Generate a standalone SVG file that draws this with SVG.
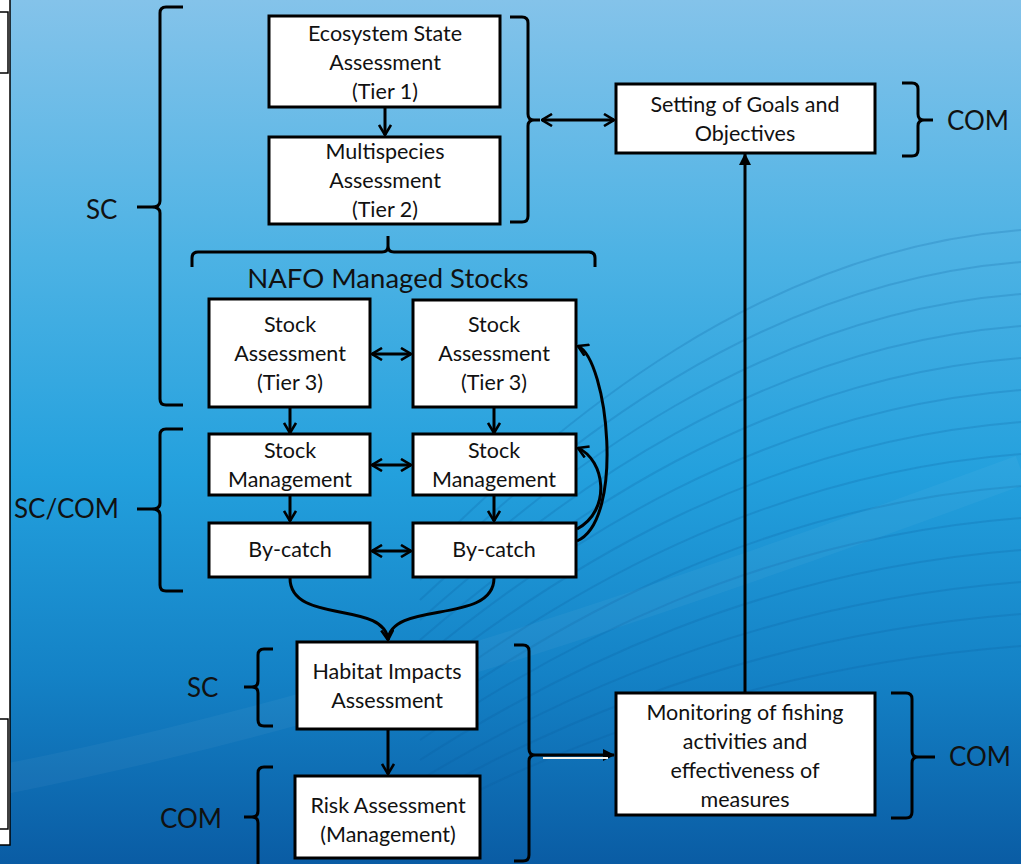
<svg xmlns="http://www.w3.org/2000/svg" width="1021" height="864" viewBox="0 0 1021 864">
<defs>
<linearGradient id="bg" x1="0" y1="0" x2="0" y2="1">
<stop offset="0" stop-color="#84c3ea"/>
<stop offset="0.3" stop-color="#4cb2e4"/>
<stop offset="0.55" stop-color="#23a0dd"/>
<stop offset="0.78" stop-color="#1482c6"/>
<stop offset="1" stop-color="#0a5ca4"/>
</linearGradient>
<marker id="op" viewBox="0 0 12 14" refX="11" refY="7" markerWidth="12" markerHeight="14" markerUnits="userSpaceOnUse" orient="auto-start-reverse">
<path d="M1,1 L11,7 L1,13" fill="none" stroke="#000" stroke-width="2.6"/>
</marker>
<marker id="fl" viewBox="0 0 12 12" refX="11" refY="6" markerWidth="12" markerHeight="12" markerUnits="userSpaceOnUse" orient="auto">
<path d="M0,0 L12,6 L0,12 z" fill="#000"/>
</marker>
<style>
.box{fill:#fff;stroke:#000;stroke-width:3}
.t{font-family:Lato,"Open Sans",sans-serif;font-size:21.5px;fill:#111;text-anchor:middle}
.lbl{font-family:Lato,"Open Sans",sans-serif;font-size:26px;fill:#111}
.br{fill:none;stroke:#000;stroke-width:3;stroke-linejoin:round}
.c{fill:none;stroke:#000;stroke-width:3}
.wave{fill:none;stroke:#0a5a9c;stroke-opacity:0.2;stroke-width:2}
</style>
</defs>
<rect x="0" y="0" width="1021" height="864" fill="url(#bg)"/>
<g id="waves">
<path class="wave" d="M420,560 C560,420 760,250 1021,230"/>
<path class="wave" d="M420,580 C560,445 760,282 1021,262"/>
<path class="wave" d="M420,600 C560,470 760,314 1021,294"/>
<path class="wave" d="M420,620 C560,495 760,346 1021,326"/>
<path class="wave" d="M420,640 C560,520 760,378 1021,358"/>
<path class="wave" d="M420,660 C560,545 760,410 1021,390"/>
<path class="wave" d="M420,680 C560,570 760,442 1021,422"/>
<path class="wave" d="M420,700 C560,595 760,474 1021,454"/>
<path class="wave" d="M420,720 C560,620 760,506 1021,486"/>
<path class="wave" d="M420,740 C560,645 760,538 1021,518"/>
<path class="wave" d="M420,760 C560,670 760,570 1021,550"/>
<path class="wave" d="M420,780 C560,695 760,602 1021,582"/>
<path class="wave" d="M420,800 C560,720 760,634 1021,614"/>
<path class="wave" d="M420,820 C560,745 760,666 1021,646"/>
<path d="M0,780 C200,740 450,680 1021,470" fill="none" stroke="#ffffff" stroke-opacity="0.04" stroke-width="30"/>
</g>
<g id="left-panel">
<rect x="-2" y="-2" width="12" height="847" fill="#fff" stroke="#000" stroke-width="1.5"/>
<rect x="-2" y="12" width="10" height="61" fill="#fff" stroke="#000" stroke-width="1.5"/>
<rect x="-2" y="719" width="10" height="110" fill="#fff" stroke="#000" stroke-width="1.5"/>
</g>
<g id="brackets">
<path class="br" d="M183,7 L166,7 Q160,7 160,13 L160,201 Q160,207 152,207 L137,207 M152,207 Q160,207 160,213 L160,399 Q160,405 166,405 L183,405"/>
<path class="br" d="M183,429 L166,429 Q160,429 160,435 L160,503 Q160,509 152,509 L137,509 M152,509 Q160,509 160,515 L160,585 Q160,591 166,591 L183,591"/>
<path class="br" d="M510,17 L522,17 Q528,17 528,23 L528,114 Q528,120 534,120 L540,120 M534,120 Q528,120 528,126 L528,216 Q528,222 522,222 L510,222"/>
<path class="br" d="M192,267 L192,258 Q192,252 198,252 L382,252 Q388,252 388,246 L388,236 M388,246 Q388,252 394,252 L589,252 Q595,252 595,258 L595,267"/>
<path class="br" d="M273,649 L264,649 Q258,649 258,655 L258,681 Q258,687 252,687 L244,687 M252,687 Q258,687 258,693 L258,720 Q258,726 264,726 L273,726"/>
<path class="br" d="M273,767 L264,767 Q258,767 258,773 L258,811 Q258,817 252,817 L244,817 M252,817 Q258,817 258,823 L258,870"/>
<path class="br" d="M514,645 L523,645 Q529,645 529,651 L529,749 Q529,755 535,755 M535,755 Q529,755 529,761 L529,855 Q529,861 523,861 L514,861"/>
<path class="br" d="M902,83 L912,83 Q918,83 918,89 L918,114 Q918,120 924,120 L933,120 M924,120 Q918,120 918,126 L918,150 Q918,156 912,156 L902,156"/>
<path class="br" d="M891,693 L906,693 Q912,693 912,699 L912,751 Q912,757 918,757 L935,757 M918,757 Q912,757 912,763 L912,812 Q912,818 906,818 L891,818"/>
</g>
<g id="labels">
<text class="lbl" x="86" y="219">SC</text>
<text class="lbl" x="14" y="518">SC/COM</text>
<text class="lbl" x="187" y="697">SC</text>
<text class="lbl" x="160" y="828">COM</text>
<text class="lbl" x="947" y="130">COM</text>
<text class="lbl" x="949" y="766">COM</text>
<text class="lbl" x="388" y="288" text-anchor="middle" style="font-size:27.5px">NAFO Managed Stocks</text>
</g>
<g id="connectors">
<line class="c" x1="385" y1="108" x2="385" y2="135" marker-end="url(#op)"/>
<line class="c" x1="542" y1="120" x2="614" y2="120" marker-start="url(#op)" marker-end="url(#op)"/>
<line class="c" x1="372" y1="354" x2="411" y2="354" marker-start="url(#op)" marker-end="url(#op)"/>
<line class="c" x1="372" y1="465" x2="411" y2="465" marker-start="url(#op)" marker-end="url(#op)"/>
<line class="c" x1="372" y1="551" x2="411" y2="551" marker-start="url(#op)" marker-end="url(#op)"/>
<line class="c" x1="290" y1="408" x2="290" y2="433" marker-end="url(#op)"/>
<line class="c" x1="494" y1="408" x2="494" y2="433" marker-end="url(#op)"/>
<line class="c" x1="290" y1="496" x2="290" y2="521" marker-end="url(#op)"/>
<line class="c" x1="494" y1="496" x2="494" y2="521" marker-end="url(#op)"/>
<path class="c" d="M290,578 C290,625 385,600 388,640" marker-end="url(#op)"/>
<path class="c" d="M494,578 C494,625 391,600 388,640"/>
<path class="c" d="M577,541 C625,520 608,360 578,346" marker-end="url(#op)"/>
<path class="c" d="M577,529 C612,510 605,460 578,448" marker-end="url(#op)"/>
<line class="c" x1="388" y1="730" x2="388" y2="774" marker-end="url(#op)"/>
<line class="c" x1="535" y1="755" x2="614" y2="755" marker-end="url(#fl)"/>
<line x1="543" y1="758" x2="608" y2="758" stroke="#f4f4ee" stroke-width="2"/>
<line class="c" x1="745" y1="692" x2="745" y2="154" marker-end="url(#fl)"/>
</g>
<g id="ecosystem">
<rect class="box" x="269" y="16" width="231" height="91"/>
<text class="t" x="385" y="41">Ecosystem State</text>
<text class="t" x="385" y="70">Assessment</text>
<text class="t" x="385" y="99">(Tier 1)</text>
</g>
<g id="multispecies">
<rect class="box" x="269" y="137" width="231" height="87"/>
<text class="t" x="385" y="159">Multispecies</text>
<text class="t" x="385" y="188">Assessment</text>
<text class="t" x="385" y="217">(Tier 2)</text>
</g>
<g id="goals">
<rect class="box" x="616" y="84" width="259" height="69"/>
<text class="t" x="745" y="112">Setting of Goals and</text>
<text class="t" x="745" y="141">Objectives</text>
</g>
<g id="stock-assess-1">
<rect class="box" x="209" y="299" width="161" height="108"/>
<text class="t" x="290" y="332">Stock</text>
<text class="t" x="290" y="361">Assessment</text>
<text class="t" x="290" y="390">(Tier 3)</text>
</g>
<g id="stock-assess-2">
<rect class="box" x="413" y="300" width="163" height="107"/>
<text class="t" x="494" y="332">Stock</text>
<text class="t" x="494" y="361">Assessment</text>
<text class="t" x="494" y="390">(Tier 3)</text>
</g>
<g id="stock-mgmt-1">
<rect class="box" x="209" y="434" width="161" height="61"/>
<text class="t" x="290" y="458">Stock</text>
<text class="t" x="290" y="487">Management</text>
</g>
<g id="stock-mgmt-2">
<rect class="box" x="413" y="434" width="163" height="61"/>
<text class="t" x="494" y="458">Stock</text>
<text class="t" x="494" y="487">Management</text>
</g>
<g id="bycatch-1">
<rect class="box" x="209" y="523" width="161" height="54"/>
<text class="t" x="290" y="557">By-catch</text>
</g>
<g id="bycatch-2">
<rect class="box" x="413" y="523" width="163" height="54"/>
<text class="t" x="494" y="557">By-catch</text>
</g>
<g id="habitat">
<rect class="box" x="297" y="642" width="180" height="87"/>
<text class="t" x="387" y="679">Habitat Impacts</text>
<text class="t" x="387" y="708">Assessment</text>
</g>
<g id="risk">
<rect class="box" x="295" y="776" width="185" height="82"/>
<text class="t" x="388" y="813">Risk Assessment</text>
<text class="t" x="388" y="842">(Management)</text>
</g>
<g id="monitoring">
<rect class="box" x="616" y="693" width="259" height="122"/>
<text class="t" x="745" y="720">Monitoring of fishing</text>
<text class="t" x="745" y="749">activities and</text>
<text class="t" x="745" y="778">effectiveness of</text>
<text class="t" x="745" y="807">measures</text>
</g>
</svg>
